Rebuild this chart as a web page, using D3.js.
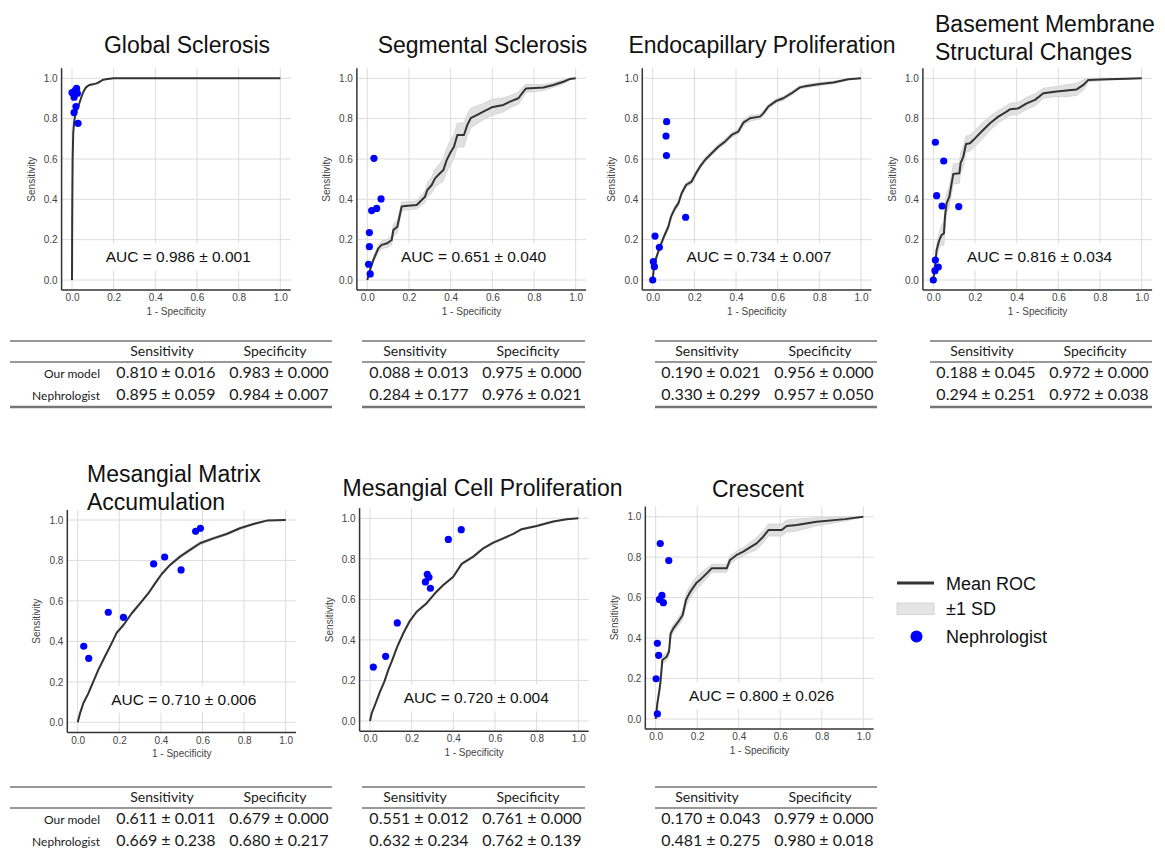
<!DOCTYPE html>
<html lang="en">
<head>
    <meta charset="UTF-8">
    <title>ROC curves per lesion</title>
    <script src="https://d3js.org/d3.v7.min.js"></script>
    <style>
        html, body {
            margin: 0;
            padding: 0;
            background: #fff;
        }

        svg {
            display: block;
        }

        .panel-title {
            font-family: "Liberation Sans", Arial, sans-serif;
            font-size: 23px;
            fill: #111;
        }

        .axis text {
            font-family: "Liberation Sans", Arial, sans-serif;
            font-size: 10px;
            fill: #444;
        }

        .axis-title {
            font-family: "Liberation Sans", Arial, sans-serif;
            font-size: 10px;
            fill: #444;
        }

        .auc {
            font-family: "Liberation Sans", Arial, sans-serif;
            font-size: 15.5px;
            fill: #111;
        }

        .tbl {
            font-family: Lato, "Open Sans", sans-serif;
            fill: #1a1a1a;
        }

        .legend text {
            font-family: "Liberation Sans", Arial, sans-serif;
            font-size: 18px;
            fill: #111;
        }
    </style>
</head>
<body>
    <svg id="chart" width="1165" height="850"></svg>

    <script>
        // ---- data ----
        var titles = [
            ["Global Sclerosis"],
            ["Segmental Sclerosis"],
            ["Endocapillary Proliferation"],
            ["Basement Membrane", "Structural Changes"],
            ["Mesangial Matrix", "Accumulation"],
            ["Mesangial Cell Proliferation"],
            ["Crescent"]
        ];
        var aucLabels = ["0.986 ± 0.001", "0.651 ± 0.040", "0.734 ± 0.007", "0.816 ± 0.034",
                         "0.710 ± 0.006", "0.720 ± 0.004", "0.800 ± 0.026"];
        var tickValues = [0, 0.2, 0.4, 0.6, 0.8, 1.0];

        // Global Sclerosis
        var gsFpr = [0, 0.001, 0.003, 0.006, 0.01, 0.014, 0.022, 0.03, 0.046, 0.058, 0.067, 0.083, 0.1, 0.118, 0.134, 0.15, 0.17, 0.2, 1.0];
        var gsTpr = [0, 0.3, 0.6, 0.73, 0.78, 0.81, 0.84, 0.86, 0.91, 0.94, 0.955, 0.967, 0.97, 0.975, 0.983, 0.993, 0.996, 1.0, 1.0];
        var gsSd  = [0, 0.004, 0.006, 0.006, 0.005, 0.005, 0.005, 0.005, 0.004, 0.004, 0.004, 0.003, 0.003, 0.003, 0.002, 0.002, 0.001, 0, 0];
        var gsNephX = [0.0, 0.01, 0.022, 0.026, 0.016, 0.019, 0.01, 0.029];
        var gsNephY = [0.929, 0.906, 0.95, 0.926, 0.94, 0.86, 0.83, 0.777];

        // Segmental Sclerosis
        var ssFpr = [0, 0.013, 0.029, 0.053, 0.069, 0.096, 0.117, 0.125, 0.144, 0.165, 0.181, 0.237, 0.261, 0.277, 0.288, 0.309, 0.325, 0.349, 0.365, 0.381,
                     0.397, 0.416, 0.432, 0.464, 0.48, 0.496, 0.525, 0.557, 0.597, 0.653, 0.685, 0.725, 0.749, 0.762, 0.845, 0.893, 0.941, 0.973, 1];
        var ssTpr = [0, 0.05, 0.1, 0.157, 0.174, 0.182, 0.198, 0.248, 0.264, 0.364, 0.367, 0.372, 0.397, 0.413, 0.446, 0.471, 0.504, 0.529, 0.545, 0.595,
                     0.628, 0.661, 0.719, 0.719, 0.769, 0.802, 0.818, 0.835, 0.856, 0.868, 0.884, 0.901, 0.934, 0.95, 0.954, 0.967, 0.983, 0.997, 1];
        var ssSd  = [0, 0.01, 0.015, 0.02, 0.02, 0.02, 0.025, 0.03, 0.03, 0.025, 0.02, 0.02, 0.025, 0.03, 0.035, 0.04, 0.045, 0.05, 0.055, 0.06,
                     0.06, 0.06, 0.06, 0.06, 0.055, 0.05, 0.045, 0.04, 0.04, 0.035, 0.03, 0.03, 0.025, 0.02, 0.015, 0.012, 0.01, 0.005, 0];
        var ssNephX = [0.032, 0.066, 0.045, 0.021, 0.01, 0.01, 0.006, 0.014];
        var ssNephY = [0.603, 0.402, 0.355, 0.344, 0.235, 0.165, 0.078, 0.03];

        // Endocapillary Proliferation
        var epFpr = [0, 0.006, 0.016, 0.032, 0.054, 0.075, 0.088, 0.107, 0.123, 0.139, 0.16, 0.187, 0.208, 0.227, 0.251, 0.283, 0.315, 0.347, 0.379, 0.411,
                     0.435, 0.467, 0.515, 0.531, 0.555, 0.595, 0.627, 0.667, 0.707, 0.739, 0.803, 0.867, 0.939, 1];
        var epTpr = [0, 0.066, 0.107, 0.157, 0.215, 0.264, 0.314, 0.355, 0.38, 0.43, 0.471, 0.488, 0.529, 0.562, 0.595, 0.628, 0.661, 0.686, 0.719, 0.736,
                     0.78, 0.802, 0.81, 0.826, 0.86, 0.889, 0.901, 0.926, 0.955, 0.962, 0.972, 0.979, 0.995, 1];
        var epSd  = [0, 0.005, 0.008, 0.01, 0.012, 0.012, 0.012, 0.012, 0.012, 0.012, 0.012, 0.012, 0.012, 0.012, 0.012, 0.012, 0.012, 0.012, 0.012, 0.012,
                     0.015, 0.015, 0.012, 0.012, 0.01, 0.01, 0.01, 0.01, 0.008, 0.008, 0.008, 0.006, 0.004, 0];
        var epNephX = [0.067, 0.064, 0.066, 0.158, 0.011, 0.032, 0.003, 0.008, 0.0];
        var epNephY = [0.785, 0.714, 0.617, 0.311, 0.218, 0.162, 0.091, 0.066, 0.0];

        // Basement Membrane Structural Changes
        var bmFpr = [0, 0.008, 0.016, 0.029, 0.04, 0.051, 0.056, 0.064, 0.077, 0.088, 0.096, 0.125, 0.131, 0.144, 0.157, 0.176, 0.2, 0.232, 0.272, 0.312,
                     0.344, 0.368, 0.408, 0.448, 0.488, 0.528, 0.592, 0.64, 0.688, 0.72, 0.744, 0.832, 0.928, 1];
        var bmTpr = [0, 0.066, 0.149, 0.198, 0.223, 0.231, 0.314, 0.38, 0.413, 0.479, 0.526, 0.529, 0.579, 0.612, 0.674, 0.678, 0.702, 0.736, 0.777, 0.81,
                     0.83, 0.846, 0.851, 0.876, 0.893, 0.926, 0.934, 0.939, 0.945, 0.967, 0.992, 0.995, 0.998, 1];
        var bmSd  = [0, 0.02, 0.03, 0.04, 0.05, 0.06, 0.06, 0.05, 0.05, 0.05, 0.05, 0.05, 0.05, 0.05, 0.04, 0.04, 0.04, 0.04, 0.035, 0.03,
                     0.03, 0.03, 0.03, 0.03, 0.03, 0.025, 0.025, 0.03, 0.03, 0.025, 0.01, 0.005, 0.003, 0];
        var bmNephX = [0.01, 0.05, 0.016, 0.042, 0.122, 0.01, 0.024, 0.008, 0.0];
        var bmNephY = [0.683, 0.59, 0.418, 0.367, 0.364, 0.099, 0.064, 0.046, 0.0];

        // Mesangial Matrix Accumulation
        var mmFpr = [0, 0.011, 0.027, 0.051, 0.075, 0.099, 0.131, 0.163, 0.188, 0.22, 0.26, 0.3, 0.34, 0.372, 0.404, 0.444, 0.492, 0.54, 0.588, 0.652,
                     0.716, 0.78, 0.845, 0.909, 1];
        var mmTpr = [0, 0.044, 0.094, 0.143, 0.201, 0.259, 0.325, 0.39, 0.443, 0.481, 0.539, 0.588, 0.638, 0.687, 0.733, 0.778, 0.819, 0.852, 0.885, 0.909,
                     0.931, 0.959, 0.98, 0.997, 1];
        var mmSd  = [0, 0.004, 0.005, 0.006, 0.006, 0.006, 0.006, 0.006, 0.006, 0.006, 0.006, 0.006, 0.006, 0.006, 0.006, 0.006, 0.007, 0.008, 0.008, 0.007,
                     0.006, 0.005, 0.004, 0.002, 0];
        var mmNephX = [0.029, 0.053, 0.147, 0.22, 0.365, 0.418, 0.497, 0.567, 0.59];
        var mmNephY = [0.376, 0.316, 0.544, 0.519, 0.783, 0.817, 0.753, 0.944, 0.959];

        // Mesangial Cell Proliferation
        var mcFpr = [0, 0.008, 0.024, 0.048, 0.069, 0.088, 0.104, 0.131, 0.16, 0.189, 0.224, 0.272, 0.312, 0.352, 0.4, 0.44, 0.496, 0.544, 0.592, 0.64,
                     0.688, 0.728, 0.8, 0.88, 0.944, 1];
        var mcTpr = [0, 0.038, 0.079, 0.145, 0.194, 0.252, 0.293, 0.367, 0.433, 0.49, 0.539, 0.581, 0.63, 0.671, 0.712, 0.775, 0.811, 0.852, 0.88, 0.901,
                     0.923, 0.946, 0.962, 0.984, 0.995, 1];
        var mcSd  = [0, 0.003, 0.004, 0.005, 0.005, 0.005, 0.005, 0.006, 0.006, 0.006, 0.006, 0.005, 0.005, 0.005, 0.005, 0.005, 0.005, 0.005, 0.005, 0.005,
                     0.004, 0.004, 0.004, 0.003, 0.002, 0];
        var mcNephX = [0.016, 0.075, 0.131, 0.266, 0.275, 0.283, 0.29, 0.376, 0.438];
        var mcNephY = [0.266, 0.319, 0.484, 0.686, 0.724, 0.709, 0.655, 0.896, 0.944];

        // Crescent
        var crFpr = [0, 0.008, 0.018, 0.024, 0.032, 0.053, 0.064, 0.072, 0.085, 0.109, 0.13, 0.146, 0.162, 0.178, 0.197, 0.221, 0.246, 0.27, 0.342, 0.358,
                     0.39, 0.422, 0.454, 0.486, 0.518, 0.543, 0.607, 0.631, 0.679, 0.775, 0.912, 1];
        var crTpr = [0, 0.077, 0.143, 0.193, 0.292, 0.308, 0.333, 0.423, 0.448, 0.481, 0.514, 0.588, 0.621, 0.646, 0.674, 0.695, 0.72, 0.745, 0.745, 0.786,
                     0.811, 0.827, 0.848, 0.868, 0.901, 0.934, 0.934, 0.954, 0.959, 0.975, 0.988, 1];
        var crSd  = [0, 0.01, 0.015, 0.02, 0.02, 0.02, 0.02, 0.02, 0.02, 0.02, 0.025, 0.03, 0.03, 0.03, 0.03, 0.03, 0.025, 0.02, 0.02, 0.02,
                     0.02, 0.02, 0.025, 0.03, 0.03, 0.03, 0.03, 0.03, 0.03, 0.02, 0.01, 0];
        var crNephX = [0.022, 0.063, 0.03, 0.018, 0.037, 0.008, 0.014, 0.002, 0.008];
        var crNephY = [0.867, 0.783, 0.611, 0.591, 0.575, 0.374, 0.315, 0.199, 0.025];

        // tables (sensitivity / specificity, mean ± sd)
        var tableCols = ["Sensitivity", "Specificity"];
        var tableRows = ["Our model", "Nephrologist"];
        var gsTable = [["0.810 ± 0.016", "0.983 ± 0.000"], ["0.895 ± 0.059", "0.984 ± 0.007"]];
        var ssTable = [["0.088 ± 0.013", "0.975 ± 0.000"], ["0.284 ± 0.177", "0.976 ± 0.021"]];
        var epTable = [["0.190 ± 0.021", "0.956 ± 0.000"], ["0.330 ± 0.299", "0.957 ± 0.050"]];
        var bmTable = [["0.188 ± 0.045", "0.972 ± 0.000"], ["0.294 ± 0.251", "0.972 ± 0.038"]];
        var mmTable = [["0.611 ± 0.011", "0.679 ± 0.000"], ["0.669 ± 0.238", "0.680 ± 0.217"]];
        var mcTable = [["0.551 ± 0.012", "0.761 ± 0.000"], ["0.632 ± 0.234", "0.762 ± 0.139"]];
        var crTable = [["0.170 ± 0.043", "0.979 ± 0.000"], ["0.481 ± 0.275", "0.980 ± 0.018"]];

        var legendLabels = ["Mean ROC", "±1 SD", "Nephrologist"];

        // ---- layout: pixel positions of 0 and 1 on each panel ----
        var panels = [
            {x0: 72, x1: 280.3, y0: 280, y1: 78.3, tx: 187, ty: 53, anchor: "middle", tl: 10, tr: 332, tt: 341, labels: true,
             fpr: gsFpr, tpr: gsTpr, sd: gsSd, nx: gsNephX, ny: gsNephY, table: gsTable},
            {x0: 367.3, x1: 575.7, y0: 280, y1: 78.3, tx: 482.5, ty: 53, anchor: "middle", tl: 362, tr: 585, tt: 341, labels: false,
             fpr: ssFpr, tpr: ssTpr, sd: ssSd, nx: ssNephX, ny: ssNephY, table: ssTable},
            {x0: 652.7, x1: 861, y0: 280, y1: 78.3, tx: 762, ty: 53, anchor: "middle", tl: 655, tr: 877, tt: 341, labels: false,
             fpr: epFpr, tpr: epTpr, sd: epSd, nx: epNephX, ny: epNephY, table: epTable},
            {x0: 933.3, x1: 1141.7, y0: 280, y1: 78.3, tx: 935, ty: 32, anchor: "start", tl: 930, tr: 1152, tt: 341, labels: false,
             fpr: bmFpr, tpr: bmTpr, sd: bmSd, nx: bmNephX, ny: bmNephY, table: bmTable},
            {x0: 77.7, x1: 285.7, y0: 722.3, y1: 520, tx: 87, ty: 482, anchor: "start", tl: 10, tr: 332, tt: 787, labels: true,
             fpr: mmFpr, tpr: mmTpr, sd: mmSd, nx: mmNephX, ny: mmNephY, table: mmTable},
            {x0: 370, x1: 578.3, y0: 721, y1: 518.3, tx: 482.5, ty: 496, anchor: "middle", tl: 362, tr: 585, tt: 787, labels: false,
             fpr: mcFpr, tpr: mcTpr, sd: mcSd, nx: mcNephX, ny: mcNephY, table: mcTable},
            {x0: 655.7, x1: 863.3, y0: 719, y1: 516.7, tx: 758, ty: 496.5, anchor: "middle", tl: 655, tr: 877, tt: 787, labels: false,
             fpr: crFpr, tpr: crTpr, sd: crSd, nx: crNephX, ny: crNephY, table: crTable}
        ];

        var svg = d3.select("#chart");
        svg.append("rect").attr("width", 1165).attr("height", 850).attr("fill", "#fff");

        panels.forEach(function(p, i) {
            var x = d3.scaleLinear().domain([0, 1]).range([p.x0, p.x1]);
            var y = d3.scaleLinear().domain([0, 1]).range([p.y0, p.y1]);
            var g = svg.append("g");
            var xl = x(-0.05), xr = x(1.05), yb = y(-0.05), yt = y(1.05);

            // grid
            g.selectAll(".vgrid").data(tickValues).enter().append("line")
                .attr("x1", function(d) { return x(d); }).attr("x2", function(d) { return x(d); })
                .attr("y1", yb).attr("y2", yt)
                .attr("stroke", "#dcdcdc").attr("stroke-width", 1);
            g.selectAll(".hgrid").data(tickValues).enter().append("line")
                .attr("y1", function(d) { return y(d); }).attr("y2", function(d) { return y(d); })
                .attr("x1", xl).attr("x2", xr)
                .attr("stroke", "#dcdcdc").attr("stroke-width", 1);

            // axes (labels only, spines drawn below)
            g.append("g").attr("class", "axis")
                .attr("transform", "translate(0," + yb + ")")
                .call(d3.axisBottom(x).tickValues(tickValues).tickFormat(d3.format(".1f")).tickSize(0).tickPadding(4))
                .call(function(a) { a.select(".domain").remove(); });
            g.append("g").attr("class", "axis")
                .attr("transform", "translate(" + xl + ",0)")
                .call(d3.axisLeft(y).tickValues(tickValues).tickFormat(d3.format(".1f")).tickSize(0).tickPadding(4))
                .call(function(a) { a.select(".domain").remove(); });
            g.selectAll(".axis").attr("font-size", null).attr("font-family", null);

            g.append("text").attr("class", "axis-title")
                .attr("transform", "translate(" + (xl - 27) + "," + ((yb + yt) / 2) + ") rotate(-90)")
                .attr("text-anchor", "middle").text("Sensitivity");
            g.append("text").attr("class", "axis-title")
                .attr("x", (xl + xr) / 2).attr("y", yb + 25)
                .attr("text-anchor", "middle").text("1 - Specificity");

            // ±1 SD band and mean curve
            var pts = p.fpr.map(function(f, k) { return {f: f, t: p.tpr[k], s: p.sd[k]}; });
            var area = d3.area()
                .x(function(d) { return x(d.f); })
                .y0(function(d) { return y(Math.max(0, d.t - d.s)); })
                .y1(function(d) { return y(Math.min(1, d.t + d.s)); });
            g.append("path").datum(pts).attr("d", area)
                .attr("fill", "#e0e0e0").attr("stroke", "#cacaca").attr("stroke-width", 0.6);
            var line = d3.line()
                .x(function(d) { return x(d.f); })
                .y(function(d) { return y(d.t); });
            g.append("path").datum(pts).attr("d", line)
                .attr("fill", "none").attr("stroke", "#333").attr("stroke-width", 2)
                .attr("stroke-linejoin", "round");

            // spines
            g.append("line").attr("x1", xl).attr("x2", xl).attr("y1", yb).attr("y2", yt)
                .attr("stroke", "#333").attr("stroke-width", 1.5);
            g.append("line").attr("x1", xl).attr("x2", xr).attr("y1", yb).attr("y2", yb)
                .attr("stroke", "#333").attr("stroke-width", 1.5);

            // AUC label with white box
            var auc = g.append("text").attr("class", "auc")
                .attr("x", x(0.51)).attr("y", y(0.087))
                .attr("text-anchor", "middle").text("AUC = " + aucLabels[i]);
            var bb = auc.node().getBBox();
            g.insert("rect", ".auc")
                .attr("x", bb.x - 6).attr("y", bb.y - 5)
                .attr("width", bb.width + 12).attr("height", bb.height + 10)
                .attr("fill", "#fff");

            // nephrologist points
            g.selectAll(".neph").data(p.nx).enter().append("circle")
                .attr("cx", function(d) { return x(d); })
                .attr("cy", function(d, k) { return y(p.ny[k]); })
                .attr("r", 3.6).attr("fill", "#0000ff");

            // title
            var title = g.append("text").attr("class", "panel-title")
                .attr("text-anchor", p.anchor);
            titles[i].forEach(function(t, k) {
                title.append("tspan").attr("x", p.tx).attr("y", p.ty + k * 28).text(t);
            });

            // table
            var tg = svg.append("g");
            var c1 = p.tr - 166, c2 = p.tr - 53;
            tg.append("line").attr("x1", p.tl).attr("x2", p.tr).attr("y1", p.tt).attr("y2", p.tt)
                .attr("stroke", "#333").attr("stroke-width", 1.2);
            tg.append("line").attr("x1", p.tl).attr("x2", p.tr).attr("y1", p.tt + 21).attr("y2", p.tt + 21)
                .attr("stroke", "#333").attr("stroke-width", 1);
            tg.append("line").attr("x1", p.tl).attr("x2", p.tr).attr("y1", p.tt + 66).attr("y2", p.tt + 66)
                .attr("stroke", "#777").attr("stroke-width", 2.5);
            [c1, c2].forEach(function(cx, k) {
                tg.append("text").attr("class", "tbl").attr("font-size", 14)
                    .attr("x", cx - 4).attr("y", p.tt + 15).attr("text-anchor", "middle").text(tableCols[k]);
            });
            p.table.forEach(function(row, r) {
                var yy = p.tt + 37 + r * 22;
                if (p.labels) {
                    tg.append("text").attr("class", "tbl").attr("font-size", 12)
                        .attr("x", p.tl + 90).attr("y", yy).attr("text-anchor", "end").text(tableRows[r]);
                }
                row.forEach(function(v, k) {
                    tg.append("text").attr("class", "tbl").attr("font-size", 16)
                        .attr("x", k === 0 ? c1 : c2).attr("y", yy).attr("text-anchor", "middle")
                        .attr("xml:space", "preserve").text(v);
                });
            });
        });

        // legend
        var lg = svg.append("g").attr("class", "legend");
        lg.append("line").attr("x1", 897).attr("x2", 934).attr("y1", 583).attr("y2", 583)
            .attr("stroke", "#333").attr("stroke-width", 3);
        lg.append("rect").attr("x", 897).attr("y", 603).attr("width", 37).attr("height", 11.5)
            .attr("fill", "#e4e4e4").attr("stroke", "#cfcfcf").attr("stroke-width", 0.8);
        lg.append("circle").attr("cx", 916.5).attr("cy", 636.5).attr("r", 6).attr("fill", "#0000ff");
        lg.selectAll(".ltext").data(legendLabels).enter().append("text")
            .attr("x", 946).attr("y", function(d, k) { return [589.5, 614.5, 642.5][k]; })
            .text(function(d) { return d; });
    </script>
</body>
</html>
